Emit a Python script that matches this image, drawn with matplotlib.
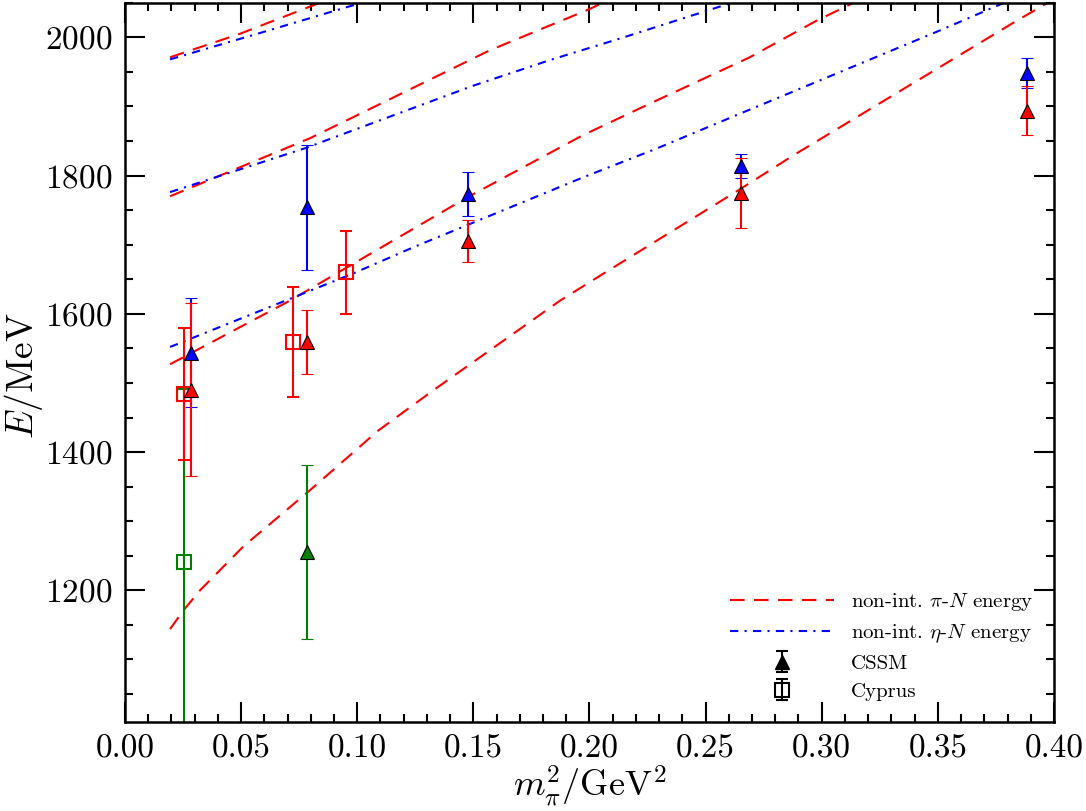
import numpy as np
import matplotlib
matplotlib.use('Agg')
from matplotlib import pyplot as plt
from matplotlib.ticker import MultipleLocator, FormatStrFormatter

plt.rcParams['font.family'] = 'cmr10'
plt.rcParams['mathtext.fontset'] = 'cm'
plt.rcParams['axes.formatter.use_mathtext'] = True

# non-interacting pi-N levels
piN0_x = [0.0194, 0.0254, 0.0323, 0.0508, 0.0797, 0.109, 0.1326, 0.1873, 0.2045, 0.2652, 0.2877, 0.384, 0.40]
piN0_E = [1144, 1172, 1200, 1263, 1345, 1431, 1489, 1619, 1655, 1781, 1829, 2024, 2055]
piN1_x = [0.0194, 0.0323, 0.071, 0.0904, 0.1477, 0.197, 0.226, 0.269, 0.2978, 0.315]
piN1_E = [1527, 1550, 1619, 1657, 1769, 1858, 1904, 1971, 2024, 2052]
piN2_x = [0.0194, 0.0797, 0.098, 0.157, 0.2002, 0.207]
piN2_E = [1770, 1854, 1884, 1981, 2041, 2052]
piN3_x = [0.0194, 0.0495, 0.084, 0.087]
piN3_E = [1971, 2005, 2050, 2054]

# non-interacting eta-N levels
etaN0_x = [0.0194, 0.098, 0.124, 0.197, 0.2289, 0.2652, 0.351, 0.38]
etaN0_E = [1552, 1658, 1696, 1797, 1839, 1890, 2010, 2052]
etaN1_x = [0.0194, 0.078, 0.0947, 0.15, 0.183, 0.213, 0.226, 0.2605, 0.264]
etaN1_E = [1776, 1840, 1861, 1930, 1967, 1998, 2012, 2049, 2053]
etaN2_x = [0.0194, 0.06, 0.1, 0.105]
etaN2_E = [1968, 2008, 2048, 2053]

# CSSM
cssm_x = [0.0284, 0.0785, 0.1477, 0.2652, 0.3882]
cssm_blue = [1544, 1754, 1773.5, 1814, 1948.5]
cssm_blue_err = [79, 90, 31.5, 17, 22]
cssm_red = [1490, 1559, 1705, 1775, 1894]
cssm_red_err = [125, 46, 30, 51, 36]
cssm_green_x = [0.0785]
cssm_green = [1255]
cssm_green_err = [126]

# Cyprus
cyp_x = [0.0254, 0.0724, 0.095]
cyp_red = [1484, 1559, 1660]
cyp_red_err = [95, 80, 60]
cyp_green_x = [0.0254]
cyp_green = [1241]
cyp_green_err = [250]

fig = plt.figure(figsize=(10.86, 8.11), dpi=100)
ax = fig.add_axes([0.1151, 0.1101, 0.8554, 0.8866])

red = '#ff0000'
blue = '#0000ff'
green = '#008000'

for xs, es in [(piN0_x, piN0_E), (piN1_x, piN1_E), (piN2_x, piN2_E), (piN3_x, piN3_E)]:
    ax.plot(xs, es, color=red, lw=1.5, dashes=(7, 4.5))
for xs, es in [(etaN0_x, etaN0_E), (etaN1_x, etaN1_E), (etaN2_x, etaN2_E)]:
    ax.plot(xs, es, color=blue, lw=1.5, dashes=(4, 3, 1, 3))

eb = dict(ms=10, capsize=4.5, elinewidth=1.5, capthick=1.5)
ax.errorbar(cyp_green_x, cyp_green, yerr=cyp_green_err, fmt='s', color=green, mfc='none', mec=green, mew=1.5, **eb)
ax.errorbar(cssm_green_x, cssm_green, yerr=cssm_green_err, fmt='^', color=green, mfc=green, mec='k', mew=0.8, **eb)
ax.errorbar(cyp_x, cyp_red, yerr=cyp_red_err, fmt='s', color=red, mfc='none', mec=red, mew=1.5, **eb)
ax.errorbar(cssm_x, cssm_blue, yerr=cssm_blue_err, fmt='^', color=blue, mfc=blue, mec='k', mew=0.8, **eb)
ax.errorbar(cssm_x, cssm_red, yerr=cssm_red_err, fmt='^', color=red, mfc=red, mec='k', mew=0.8, **eb)

# legend proxies
h1, = ax.plot([], [], color=red, lw=1.5, dashes=(7, 4.5))
h2, = ax.plot([], [], color=blue, lw=1.5, dashes=(4, 3, 1, 3))
h3 = ax.errorbar([np.nan], [np.nan], yerr=[np.nan], fmt='^', color='k', mfc='k', **eb)
h4 = ax.errorbar([np.nan], [np.nan], yerr=[np.nan], fmt='s', color='k', mfc='none', mew=1.5, **eb)
ax.legend([h1, h2, h3, h4],
          [r'non-int. $\pi$-$N$ energy', r'non-int. $\eta$-$N$ energy', 'CSSM', 'Cyprus'],
          loc='lower right', frameon=False, fontsize=15, handlelength=5.0,
          labelspacing=0.45, borderaxespad=0.6, handletextpad=0.8)

ax.set_xlim(0, 0.4)
ax.set_ylim(1010, 2050)
ax.xaxis.set_major_locator(MultipleLocator(0.05))
ax.xaxis.set_minor_locator(MultipleLocator(0.01))
ax.xaxis.set_major_formatter(FormatStrFormatter('%.2f'))
ax.yaxis.set_major_locator(MultipleLocator(200))
ax.yaxis.set_minor_locator(MultipleLocator(50))
ax.tick_params(which='both', direction='in', top=True, right=True, width=1.5, labelsize=24)
ax.tick_params(which='major', length=14.5, pad=9)
ax.tick_params(which='minor', length=6)
for s in ax.spines.values():
    s.set_linewidth(1.8)

ax.set_xlabel(r'$m_\pi^2/\mathrm{GeV}^2$', fontsize=26, labelpad=0)
ax.set_ylabel(r'$E/\mathrm{MeV}$', fontsize=27)
ax.yaxis.set_label_coords(-0.086, 0.482)

fig.savefig('out.png', dpi=100)
